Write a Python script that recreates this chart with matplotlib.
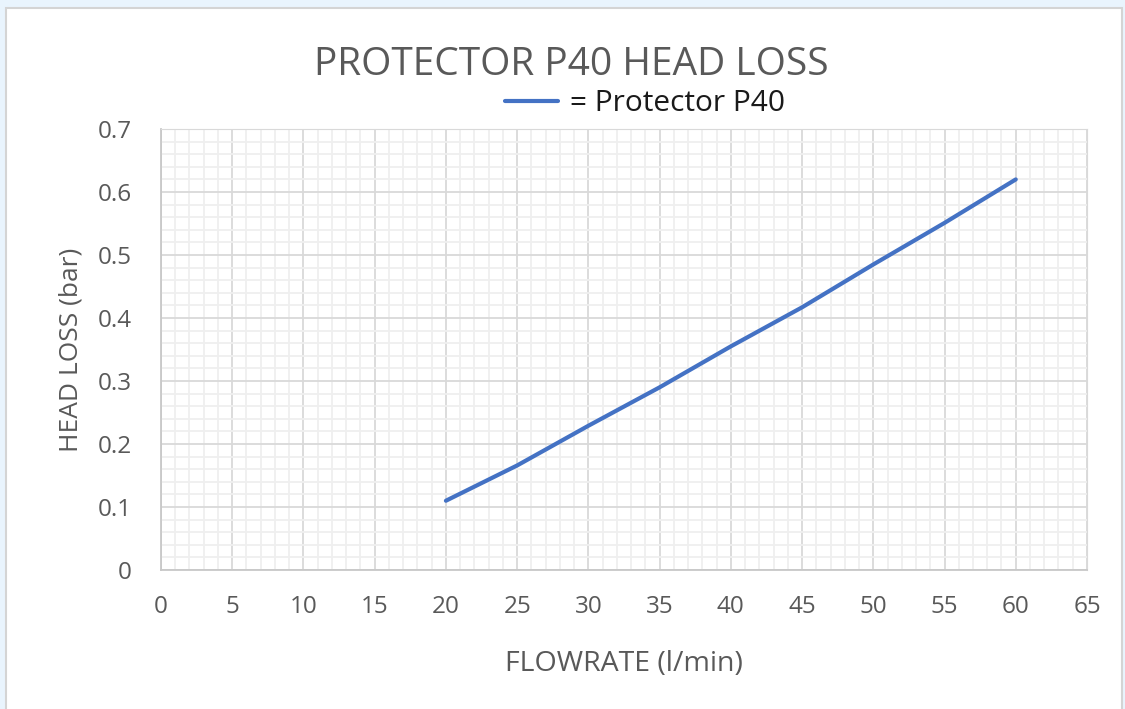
import matplotlib.pyplot as plt
from matplotlib.patches import Rectangle
from matplotlib.ticker import MultipleLocator

flow = [20, 25, 30, 35, 40, 45, 50, 55, 60]
head_loss = [0.11, 0.166, 0.229, 0.29, 0.355, 0.417, 0.485, 0.551, 0.62]
series_name = "= Protector P40"

plt.rcParams['font.family'] = ['Open Sans', 'DejaVu Sans']

fig = plt.figure(figsize=(11.25, 7.09), dpi=100)
fig.patch.set_facecolor("#e9f4fd")
# white chart card with a thin grey edge
fig.patches.append(Rectangle((6 / 1125, -0.01), 1116 / 1125, 1 - 8 / 709 + 0.01,
                             transform=fig.transFigure, facecolor="white",
                             edgecolor="#d4d4d4", linewidth=1.5, zorder=-10))

ax = fig.add_axes([0.1431, 0.196, 0.8231, 0.622])
ax.set_zorder(1)
ax.plot(flow, head_loss, color="#4472c4", linewidth=3, solid_capstyle="round",
        label=series_name, zorder=3)

ax.set_xlim(0, 65)
ax.set_ylim(0, 0.7)
ax.xaxis.set_major_locator(MultipleLocator(5))
ax.xaxis.set_minor_locator(MultipleLocator(1))
ax.yaxis.set_major_locator(MultipleLocator(0.1))
ax.yaxis.set_minor_locator(MultipleLocator(0.02))
ax.yaxis.set_major_formatter(lambda v, p: "0" if abs(v) < 1e-9 else f"{v:.1f}")

ax.grid(which="minor", color="#efefef", linewidth=1.3)
ax.grid(which="major", color="#d9d9d9", linewidth=1.3)
ax.set_axisbelow(True)
ax.tick_params(which="both", length=0, labelsize=17.5, labelcolor="#595959")
ax.tick_params(axis="x", pad=18)
ax.tick_params(axis="y", pad=21)
for s in ["top", "right"]:
    ax.spines[s].set_color("#d9d9d9")
for s in ["left", "bottom"]:
    ax.spines[s].set_color("#c8c8c8")
    ax.spines[s].set_linewidth(1.3)

ax.set_xlabel("FLOWRATE (l/min)", fontsize=20.5, color="#595959", labelpad=22)
ax.set_ylabel("HEAD LOSS (bar)", fontsize=19, color="#595959", labelpad=10)
fig.text(0.508, 0.908, "PROTECTOR P40 HEAD LOSS", ha="center", va="center",
         fontsize=28, color="#595959")
ax.legend(loc="center", bbox_to_anchor=(0.523, 1.058), frameon=False,
          fontsize=21.5, handlelength=1.77, handletextpad=0.4, borderaxespad=0,
          borderpad=0, labelcolor="#1a1a1a")

fig.savefig("out.png", dpi=100, facecolor=fig.get_facecolor())
